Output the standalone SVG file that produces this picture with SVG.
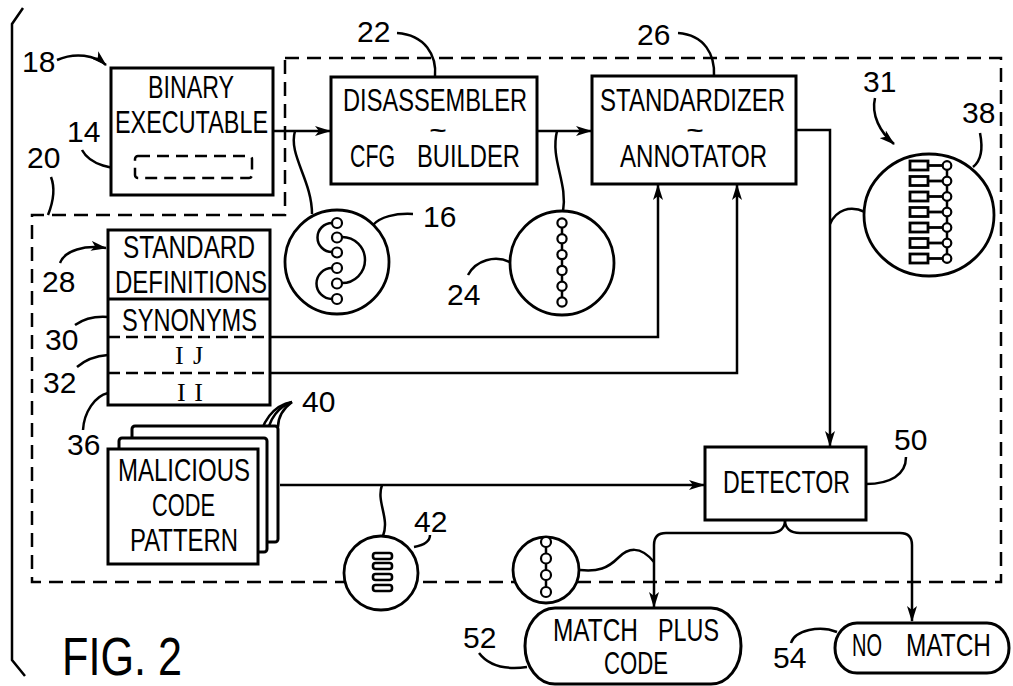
<svg xmlns="http://www.w3.org/2000/svg" width="1013" height="686" viewBox="0 0 1013 686">
<style>
.box{fill:#fff;stroke:#000;stroke-width:3}
.ln{fill:none;stroke:#000;stroke-width:2.5}
.dash{fill:none;stroke:#000;stroke-width:2.5;stroke-dasharray:14 8}
.dot{fill:#fff;stroke:#000;stroke-width:2.2}
.t{font-family:"Liberation Sans Narrow","Liberation Sans",Arial,sans-serif;font-size:31px;fill:#000;text-anchor:middle}
.n{font-family:"Liberation Sans Narrow","Liberation Sans",Arial,sans-serif;font-size:30px;fill:#000}
.s{font-family:"Liberation Serif","Times New Roman",serif;font-size:26px;fill:#000;text-anchor:middle}
.tl{font-family:"Liberation Sans",Arial,sans-serif;font-size:20px;font-weight:bold;fill:#000;text-anchor:middle}
.fig{font-family:"Liberation Sans Narrow","Liberation Sans",Arial,sans-serif;font-size:53px;fill:#000}
</style>
<defs>
<marker id="ah" markerUnits="userSpaceOnUse" markerWidth="16" markerHeight="10" refX="15" refY="5" orient="auto">
<path d="M0,0 L16,5 L0,10 L4,5 z" fill="#000"/>
</marker>
</defs>
<rect width="1013" height="686" fill="#fff"/>

<!-- brace -->
<path class="ln" d="M23,8 L12,24 L12,660 L25,676"/>

<!-- dashed region 20 -->
<path class="dash" d="M285,58 L1001,58 L1001,582 L32,582 L32,215 L285,215 Z"/>

<g id="connectors">
<path class="ln" d="M273,131 L330,131" marker-end="url(#ah)"/>
<path class="ln" d="M537,131 L591,131" marker-end="url(#ah)"/>
<path class="ln" d="M796,130 L830,130 L830,446" marker-end="url(#ah)"/>
<path class="ln" d="M270,337 L658,337 L658,185" marker-end="url(#ah)"/>
<path class="ln" d="M270,373 L737,373 L737,185" marker-end="url(#ah)"/>
<path class="ln" d="M280,485 L704,485" marker-end="url(#ah)"/>
<path class="ln" d="M785,520 C785,528 780,533 770,533 L666,533 Q654,533 654,545 L654,607" marker-end="url(#ah)"/>
<path class="ln" d="M785,520 C785,528 790,533 800,533 L900,533 Q912,533 912,545 L912,621" marker-end="url(#ah)"/>
<path class="ln" d="M295,131 C288,155 312,180 312,214"/>
<path class="ln" d="M557,131 C550,160 568,182 563,212"/>
<path class="ln" d="M830,224 C836,210 850,205 865,212"/>
<path class="ln" d="M382,485 C376,502 390,518 383,536"/>
<path class="ln" d="M654,562 C640,545 628,548 618,558 C608,568 598,572 580,570"/>
</g>

<g id="labels">
<text class="n" x="22" y="72">18</text>
<path class="ln" d="M57,60 C75,52 95,55 106,65" marker-end="url(#ah)"/>
<text class="n" x="67" y="142">14</text>
<path class="ln" d="M82,150 C90,165 112,170 135,169"/>
<text class="n" x="27" y="168">20</text>
<path class="ln" d="M51,177 C56,190 52,205 48,215"/>
<text class="n" x="357" y="42">22</text>
<path class="ln" d="M397,33 C425,35 437,55 435,77"/>
<text class="n" x="637" y="45">26</text>
<path class="ln" d="M678,33 C705,35 715,55 714,76"/>
<text class="n" x="423" y="227">16</text>
<path class="ln" d="M413,214 C395,213 380,217 373,225"/>
<text class="n" x="447" y="305">24</text>
<path class="ln" d="M468,275 C476,260 495,255 510,262"/>
<text class="n" x="863" y="92">31</text>
<path class="ln" d="M875,98 C871,115 880,132 894,144" marker-end="url(#ah)"/>
<text class="n" x="962" y="123">38</text>
<path class="ln" d="M980,133 C983,148 982,160 973,167"/>
<text class="n" x="42" y="292">28</text>
<path class="ln" d="M60,263 C65,250 85,245 106,248" marker-end="url(#ah)"/>
<text class="n" x="45" y="350">30</text>
<path class="ln" d="M75,325 C85,318 95,316 108,317"/>
<text class="n" x="43" y="393">32</text>
<path class="ln" d="M77,367 C85,360 95,356 108,355"/>
<text class="n" x="67" y="455">36</text>
<path class="ln" d="M83,430 C84,412 95,396 108,393"/>
<text class="n" x="302" y="412">40</text>
<path class="ln" d="M292,402 C275,405 260,420 258,449"/>
<path class="ln" d="M292,402 C280,406 268,418 267,438"/>
<path class="ln" d="M292,402 C284,408 278,415 278,427"/>
<text class="n" x="414" y="532">42</text>
<path class="ln" d="M414,547 C425,545 430,541 430,535"/>
<text class="n" x="894" y="450">50</text>
<path class="ln" d="M866,484 C890,484 906,475 906,457"/>
<text class="n" x="463" y="648">52</text>
<path class="ln" d="M479,653 C488,665 505,670 527,667"/>
<text class="n" x="773" y="668">54</text>
<path class="ln" d="M791,643 C795,630 820,625 837,632"/>
</g>

<g id="binary-executable">
<rect class="box" x="111" y="68" width="162" height="127"/>
<text class="t" x="191" y="98" textLength="86" lengthAdjust="spacingAndGlyphs">BINARY</text>
<text class="t" x="191.5" y="133" textLength="153" lengthAdjust="spacingAndGlyphs">EXECUTABLE</text>
<rect class="dash" x="135" y="156" width="117" height="22" rx="3" style="stroke-dasharray:12 7"/>
</g>

<g id="disassembler">
<rect class="box" x="331" y="77" width="206" height="107"/>
<text class="t" x="435" y="111" textLength="184" lengthAdjust="spacingAndGlyphs">DISASSEMBLER</text>
<text class="tl" x="438" y="137" textLength="17" lengthAdjust="spacingAndGlyphs">~</text>
<text class="t" x="372.5" y="167" textLength="45" lengthAdjust="spacingAndGlyphs">CFG</text>
<text class="t" x="468.5" y="167" textLength="103" lengthAdjust="spacingAndGlyphs">BUILDER</text>
</g>

<g id="standardizer">
<rect class="box" x="592" y="76" width="204" height="108"/>
<text class="t" x="692.5" y="111" textLength="185" lengthAdjust="spacingAndGlyphs">STANDARDIZER</text>
<text class="tl" x="695" y="137" textLength="17" lengthAdjust="spacingAndGlyphs">~</text>
<text class="t" x="693.5" y="167" textLength="147" lengthAdjust="spacingAndGlyphs">ANNOTATOR</text>
</g>

<g id="standard-definitions">
<rect class="box" x="108" y="230" width="162" height="175"/>
<line class="ln" x1="108" y1="299" x2="270" y2="299" style="stroke-width:3"/>
<line class="dash" x1="108" y1="337" x2="270" y2="337" style="stroke-dasharray:12 6"/>
<line class="dash" x1="108" y1="373" x2="270" y2="373" style="stroke-dasharray:12 6"/>
<text class="t" x="189" y="258" textLength="132" lengthAdjust="spacingAndGlyphs">STANDARD</text>
<text class="t" x="191" y="293" textLength="152" lengthAdjust="spacingAndGlyphs">DEFINITIONS</text>
<text class="t" x="189.5" y="331" textLength="135" lengthAdjust="spacingAndGlyphs">SYNONYMS</text>
<text class="s" x="189" y="364" textLength="28" lengthAdjust="spacing">IJ</text>
<text class="s" x="190" y="401" textLength="26" lengthAdjust="spacing">II</text>
</g>

<g id="graph-16">
<circle class="box" cx="337" cy="262" r="52" style="stroke-width:2.8"/>
<path class="ln" d="M332,223 A14.5,14.5 0 0 0 332,252"/>
<path class="ln" d="M342,237 A23,23 0 0 1 342,283"/>
<path class="ln" d="M332,268 A15.5,15.5 0 0 0 332,299"/>
<circle class="dot" cx="337" cy="223" r="5"/>
<circle class="dot" cx="337" cy="237.5" r="5"/>
<circle class="dot" cx="337" cy="252.5" r="5"/>
<circle class="dot" cx="337" cy="268" r="5"/>
<circle class="dot" cx="337" cy="283.5" r="5"/>
<circle class="dot" cx="337" cy="299" r="5"/>
</g>

<g id="graph-24">
<circle class="box" cx="562" cy="263" r="52" style="stroke-width:2.8"/>
<line class="ln" x1="562" y1="223" x2="562" y2="302"/>
<circle class="dot" cx="562" cy="223" r="4.6"/>
<circle class="dot" cx="562" cy="238.8" r="4.6"/>
<circle class="dot" cx="562" cy="254.6" r="4.6"/>
<circle class="dot" cx="562" cy="270.4" r="4.6"/>
<circle class="dot" cx="562" cy="286.2" r="4.6"/>
<circle class="dot" cx="562" cy="302" r="4.6"/>
</g>

<g id="graph-38">
<ellipse class="box" cx="929" cy="215" rx="65" ry="61" style="stroke-width:2.8"/>
<line class="ln" x1="947" y1="165" x2="947" y2="258"/>
<g class="ln" style="stroke-width:2.8">
<rect x="910" y="161" width="18" height="9"/><line x1="928" y1="165.5" x2="943" y2="165.5"/>
<rect x="910" y="176.5" width="18" height="9"/><line x1="928" y1="181" x2="943" y2="181"/>
<rect x="910" y="192" width="18" height="9"/><line x1="928" y1="196.5" x2="943" y2="196.5"/>
<rect x="910" y="207.5" width="18" height="9"/><line x1="928" y1="212" x2="943" y2="212"/>
<rect x="910" y="223" width="18" height="9"/><line x1="928" y1="227.5" x2="943" y2="227.5"/>
<rect x="910" y="238.5" width="18" height="9"/><line x1="928" y1="243" x2="943" y2="243"/>
<rect x="910" y="254" width="18" height="9"/><line x1="928" y1="258.5" x2="943" y2="258.5"/>
</g>
<circle class="dot" cx="947" cy="165.5" r="4.3"/>
<circle class="dot" cx="947" cy="181" r="4.3"/>
<circle class="dot" cx="947" cy="196.5" r="4.3"/>
<circle class="dot" cx="947" cy="212" r="4.3"/>
<circle class="dot" cx="947" cy="227.5" r="4.3"/>
<circle class="dot" cx="947" cy="243" r="4.3"/>
<circle class="dot" cx="947" cy="258.5" r="4.3"/>
</g>

<g id="malicious-code-pattern">
<rect class="box" x="132" y="426" width="146" height="116" rx="3"/>
<rect class="box" x="119" y="438" width="148" height="114" rx="3"/>
<rect class="box" x="108" y="449" width="150" height="115"/>
<text class="t" x="184" y="481" textLength="132" lengthAdjust="spacingAndGlyphs">MALICIOUS</text>
<text class="t" x="183.5" y="516" textLength="63" lengthAdjust="spacingAndGlyphs">CODE</text>
<text class="t" x="184" y="551" textLength="108" lengthAdjust="spacingAndGlyphs">PATTERN</text>
</g>

<g id="graph-42">
<circle class="box" cx="381" cy="573" r="37" style="stroke-width:2.8"/>
<rect class="ln" x="373" y="553" width="19" height="6" rx="2.5" style="stroke-width:2.6"/>
<rect class="ln" x="373" y="563" width="19" height="6" rx="2.5" style="stroke-width:2.6"/>
<rect class="ln" x="373" y="574" width="19" height="6" rx="2.5" style="stroke-width:2.6"/>
<rect class="ln" x="373" y="585" width="19" height="6" rx="2.5" style="stroke-width:2.6"/>
</g>

<g id="graph-match">
<circle class="box" cx="546" cy="570" r="33" style="stroke-width:2.8"/>
<line class="ln" x1="546" y1="542" x2="546" y2="592"/>
<circle class="dot" cx="546" cy="542" r="5"/>
<circle class="dot" cx="546" cy="558.5" r="5"/>
<circle class="dot" cx="546" cy="575" r="5"/>
<circle class="dot" cx="546" cy="592" r="5"/>
</g>

<g id="detector">
<rect class="box" x="705" y="447" width="161" height="73"/>
<text class="t" x="786.5" y="493" textLength="127" lengthAdjust="spacingAndGlyphs">DETECTOR</text>
</g>

<g id="match-plus-code">
<rect class="box" x="525" y="608" width="216" height="76" rx="30" ry="38"/>
<text class="t" x="595.5" y="641" textLength="85" lengthAdjust="spacingAndGlyphs">MATCH</text>
<text class="t" x="688.5" y="641" textLength="61" lengthAdjust="spacingAndGlyphs">PLUS</text>
<text class="t" x="636" y="674" textLength="64" lengthAdjust="spacingAndGlyphs">CODE</text>
</g>

<g id="no-match">
<rect class="box" x="835" y="623" width="174" height="50" rx="22" ry="25"/>
<text class="t" x="867" y="656" textLength="30" lengthAdjust="spacingAndGlyphs">NO</text>
<text class="t" x="948.5" y="656" textLength="85" lengthAdjust="spacingAndGlyphs">MATCH</text>
</g>

<text class="fig" x="62" y="675" textLength="120" lengthAdjust="spacingAndGlyphs">FIG. 2</text>
</svg>
